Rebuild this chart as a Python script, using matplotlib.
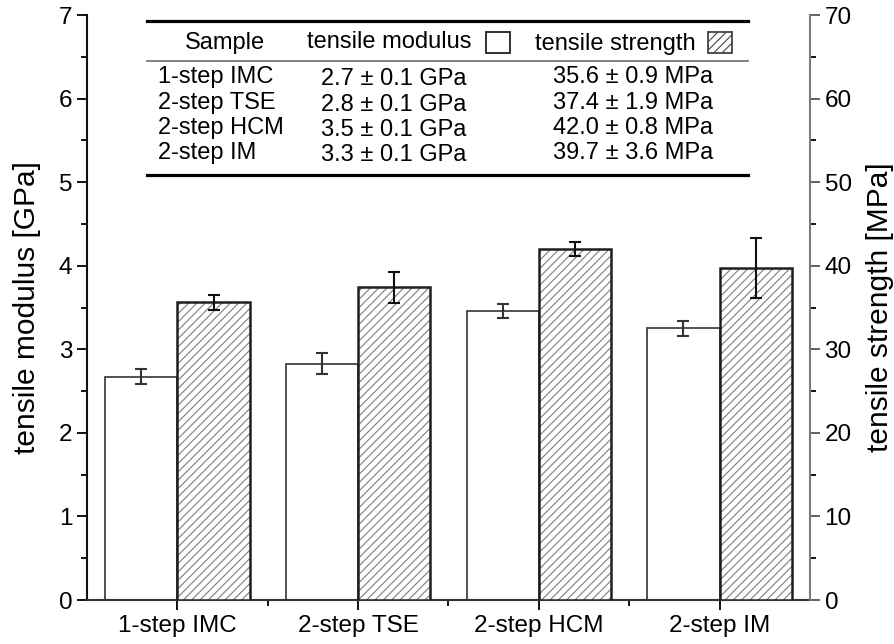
import numpy as np
import matplotlib
matplotlib.use("Agg")
import matplotlib.pyplot as plt
from matplotlib.patches import Rectangle

plt.rcParams['font.family'] = ['Liberation Sans', 'DejaVu Sans']
plt.rcParams['hatch.linewidth'] = 0.8

samples = ["1-step IMC", "2-step TSE", "2-step HCM", "2-step IM"]
modulus = [2.67, 2.83, 3.46, 3.25]        # GPa
modulus_err = [0.09, 0.13, 0.08, 0.09]
strength = [35.6, 37.4, 42.0, 39.7]       # MPa
strength_err = [0.85, 1.9, 0.8, 3.6]

# Tabellentexte
table_modulus = ["2.7 ± 0.1 GPa", "2.8 ± 0.1 GPa", "3.5 ± 0.1 GPa", "3.3 ± 0.1 GPa"]
table_strength = ["35.6 ± 0.9 MPa", "37.4 ± 1.9 MPa", "42.0 ± 0.8 MPa", "39.7 ± 3.6 MPa"]

x = np.arange(len(samples))
w = 0.4

fig = plt.figure(figsize=(8.95, 6.44), dpi=100)
ax = fig.add_axes([0.0972, 0.0683, 0.8078, 0.9084])
ax2 = ax.twinx()

# Modul (links, weiss)
ax.bar(x - w / 2, modulus, w, color="white", edgecolor="#333333", linewidth=1.2, zorder=2)
ax.errorbar(x - w / 2, modulus, yerr=modulus_err, fmt="none", ecolor="#333333",
            elinewidth=1.5, capsize=4, capthick=1.5, zorder=3)

# Festigkeit (rechts, schraffiert)
ax2.bar(x + w / 2, strength, w, color="white", edgecolor="#7c7c7c", hatch="////",
        linewidth=0, zorder=2)
ax2.bar(x + w / 2, strength, w, fill=False, edgecolor="#1e1e1e", linewidth=1.8, zorder=3)
ax2.errorbar(x + w / 2, strength, yerr=strength_err, fmt="none", ecolor="#111111",
             elinewidth=1.5, capsize=4, capthick=1.5, zorder=4)

ax.set_xlim(-0.5, 3.5)
ax.set_ylim(0, 7)
ax2.set_ylim(0, 70)

ax.set_xticks(x)
ax.set_xticklabels(samples)
ax.set_xticks(x[:-1] + 0.5, minor=True)
ax.set_yticks(np.arange(0, 8, 1))
ax.set_yticks(np.arange(0.5, 7, 1), minor=True)
ax2.set_yticks(np.arange(0, 80, 10))
ax2.set_yticks(np.arange(5, 70, 10), minor=True)

for a in (ax, ax2):
    a.spines["top"].set_visible(False)
    a.tick_params(which="major", direction="out", length=7, width=1.3, labelsize=17.5)
    a.tick_params(which="minor", direction="out", length=4, width=1.3)
ax.spines["left"].set_linewidth(1.5)
ax.spines["left"].set_color("#111111")
ax.spines["bottom"].set_linewidth(1.5)
ax.spines["bottom"].set_color("#333333")
ax.spines["right"].set_visible(False)
ax2.spines["left"].set_visible(False)
ax2.spines["bottom"].set_visible(False)
ax2.spines["right"].set_linewidth(1.5)
ax2.spines["right"].set_color("#7a7a7a")
ax2.tick_params(axis="y", colors="#555555", labelcolor="black")

ax.set_ylabel("tensile modulus [GPa]", fontsize=21.5)
ax.yaxis.set_label_coords(-0.063, 0.5)
ax2.set_ylabel("tensile strength [MPa]", fontsize=21.5)
ax2.yaxis.set_label_coords(1.077, 0.5)

# Tabelle oben im Diagramm
tr = ax2.transAxes
ax2.plot([0.083, 0.914], [0.990, 0.990], color="black", lw=2.3, transform=tr, clip_on=False, zorder=5)
ax2.plot([0.083, 0.914], [0.921, 0.921], color="#777777", lw=1.3, transform=tr, clip_on=False, zorder=5)
ax2.plot([0.083, 0.914], [0.726, 0.726], color="black", lw=2.3, transform=tr, clip_on=False, zorder=5)

fs = 17
ax2.text(0.191, 0.952, "Sample", transform=tr, ha="center", va="center", fontsize=fs)
ax2.text(0.304, 0.954, "tensile modulus", transform=tr, ha="left", va="center", fontsize=fs)
ax2.add_patch(Rectangle((0.552, 0.935), 0.033, 0.036, transform=tr, facecolor="white",
                        edgecolor="#222222", lw=1.3, zorder=5))
ax2.text(0.619, 0.950, "tensile strength", transform=tr, ha="left", va="center", fontsize=fs)
ax2.add_patch(Rectangle((0.859, 0.935), 0.033, 0.036, transform=tr, facecolor="white",
                        edgecolor="#444444", hatch="////", lw=1.3, zorder=5))

row_y = [0.894, 0.850, 0.807, 0.764]
for yy, name, m, s in zip(row_y, samples, table_modulus, table_strength):
    ax2.text(0.098, yy, name, transform=tr, ha="left", va="center", fontsize=fs)
    ax2.text(0.324, yy - 0.004, m, transform=tr, ha="left", va="center", fontsize=fs)
    ax2.text(0.645, yy, s, transform=tr, ha="left", va="center", fontsize=fs)

fig.savefig("out.png", dpi=100)
